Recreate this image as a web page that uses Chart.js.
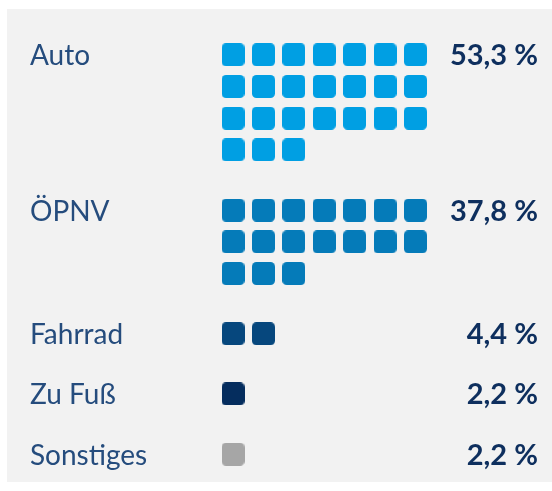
<!DOCTYPE html>
<html>
<head>
<meta charset="utf-8">
<script src="https://cdn.jsdelivr.net/npm/chart.js@4"></script>
<style>
html,body{margin:0;padding:0;background:#ffffff;}
#c{display:block;}
</style>
</head>
<body>
<canvas id="c" width="552" height="491" style="width:552px;height:491px"></canvas>
<script>
// ---- data ----
const categories = ['Auto', 'ÖPNV', 'Fahrrad', 'Zu Fuß', 'Sonstiges'];
const shares = [53.3, 37.8, 4.4, 2.2, 2.2];           // percent
const icons = [24, 17, 2, 1, 1];                       // number of squares
const colors = ['#009FE3', '#057BB9', '#06477D', '#052D5E', '#A6A6A6'];

// ---- layout (styles / geometry only) ----
const W = 552, H = 491;
const perRow = 7;
const colPitch = 30.4, firstColX = 233;      // px
const rowPitch = 31.7, firstRowY = 54.8;     // px
const groupGap = 0.9;                        // extra rows between groups
const sq = 23, sqRadius = 4.5;
const labelX = 30, pctRight = 538;
const labelColor = '#254C7D', pctColor = '#0E2F5E';

function fmt(v){ return v.toFixed(1).replace('.', ',') + ' %'; }

function makeSquare(color){
  const c = document.createElement('canvas');
  c.width = sq; c.height = sq;
  const g = c.getContext('2d');
  g.fillStyle = color;
  g.beginPath();
  g.roundRect(0, 0, sq, sq, sqRadius);
  g.fill();
  return c;
}

// group start rows
const groupStart = [];
let row = 0;
icons.forEach((n, i) => {
  groupStart.push(row);
  row += Math.ceil(n / perRow) + groupGap;
});

const datasets = categories.map((cat, i) => {
  const pts = [];
  for (let k = 0; k < icons[i]; k++) {
    pts.push({ x: k % perRow, y: groupStart[i] + Math.floor(k / perRow) });
  }
  return {
    label: cat,
    data: pts,
    pointStyle: makeSquare(colors[i]),
    pointRadius: sq / 2,
    backgroundColor: colors[i],
    borderWidth: 0,
    clip: false
  };
});

const xMin = -firstColX / colPitch, xMax = xMin + W / colPitch;
const yMin = -firstRowY / rowPitch, yMax = yMin + H / rowPitch;

const panelPlugin = {
  id: 'panel',
  beforeDraw(chart){
    const ctx = chart.ctx;
    ctx.save();
    ctx.fillStyle = '#F2F2F2';
    ctx.fillRect(7, 9, W - 7, 473);
    ctx.restore();
  },
  afterDatasetsDraw(chart){
    const ctx = chart.ctx;
    const ys = chart.scales.y;
    ctx.save();
    categories.forEach((cat, i) => {
      const y = ys.getPixelForValue(groupStart[i]) + 10.5;
      ctx.textBaseline = 'alphabetic';
      ctx.font = '400 28px Lato, "Open Sans", sans-serif';
      ctx.fillStyle = labelColor;
      ctx.textAlign = 'left';
      ctx.fillText(cat, labelX, y);
      ctx.font = '700 29px Lato, "Open Sans", sans-serif';
      ctx.fillStyle = pctColor;
      ctx.textAlign = 'right';
      ctx.fillText(fmt(shares[i]), pctRight, y);
    });
    ctx.restore();
  }
};

new Chart(document.getElementById('c'), {
  type: 'scatter',
  data: { datasets },
  options: {
    responsive: false,
    devicePixelRatio: 1,
    animation: false,
    events: [],
    layout: { padding: 0, autoPadding: false },
    plugins: { legend: { display: false }, tooltip: { enabled: false } },
    scales: {
      x: { type: 'linear', display: false, min: xMin, max: xMax },
      y: { type: 'linear', display: false, reverse: true, min: yMin, max: yMax }
    }
  },
  plugins: [panelPlugin]
});
</script>
</body>
</html>
